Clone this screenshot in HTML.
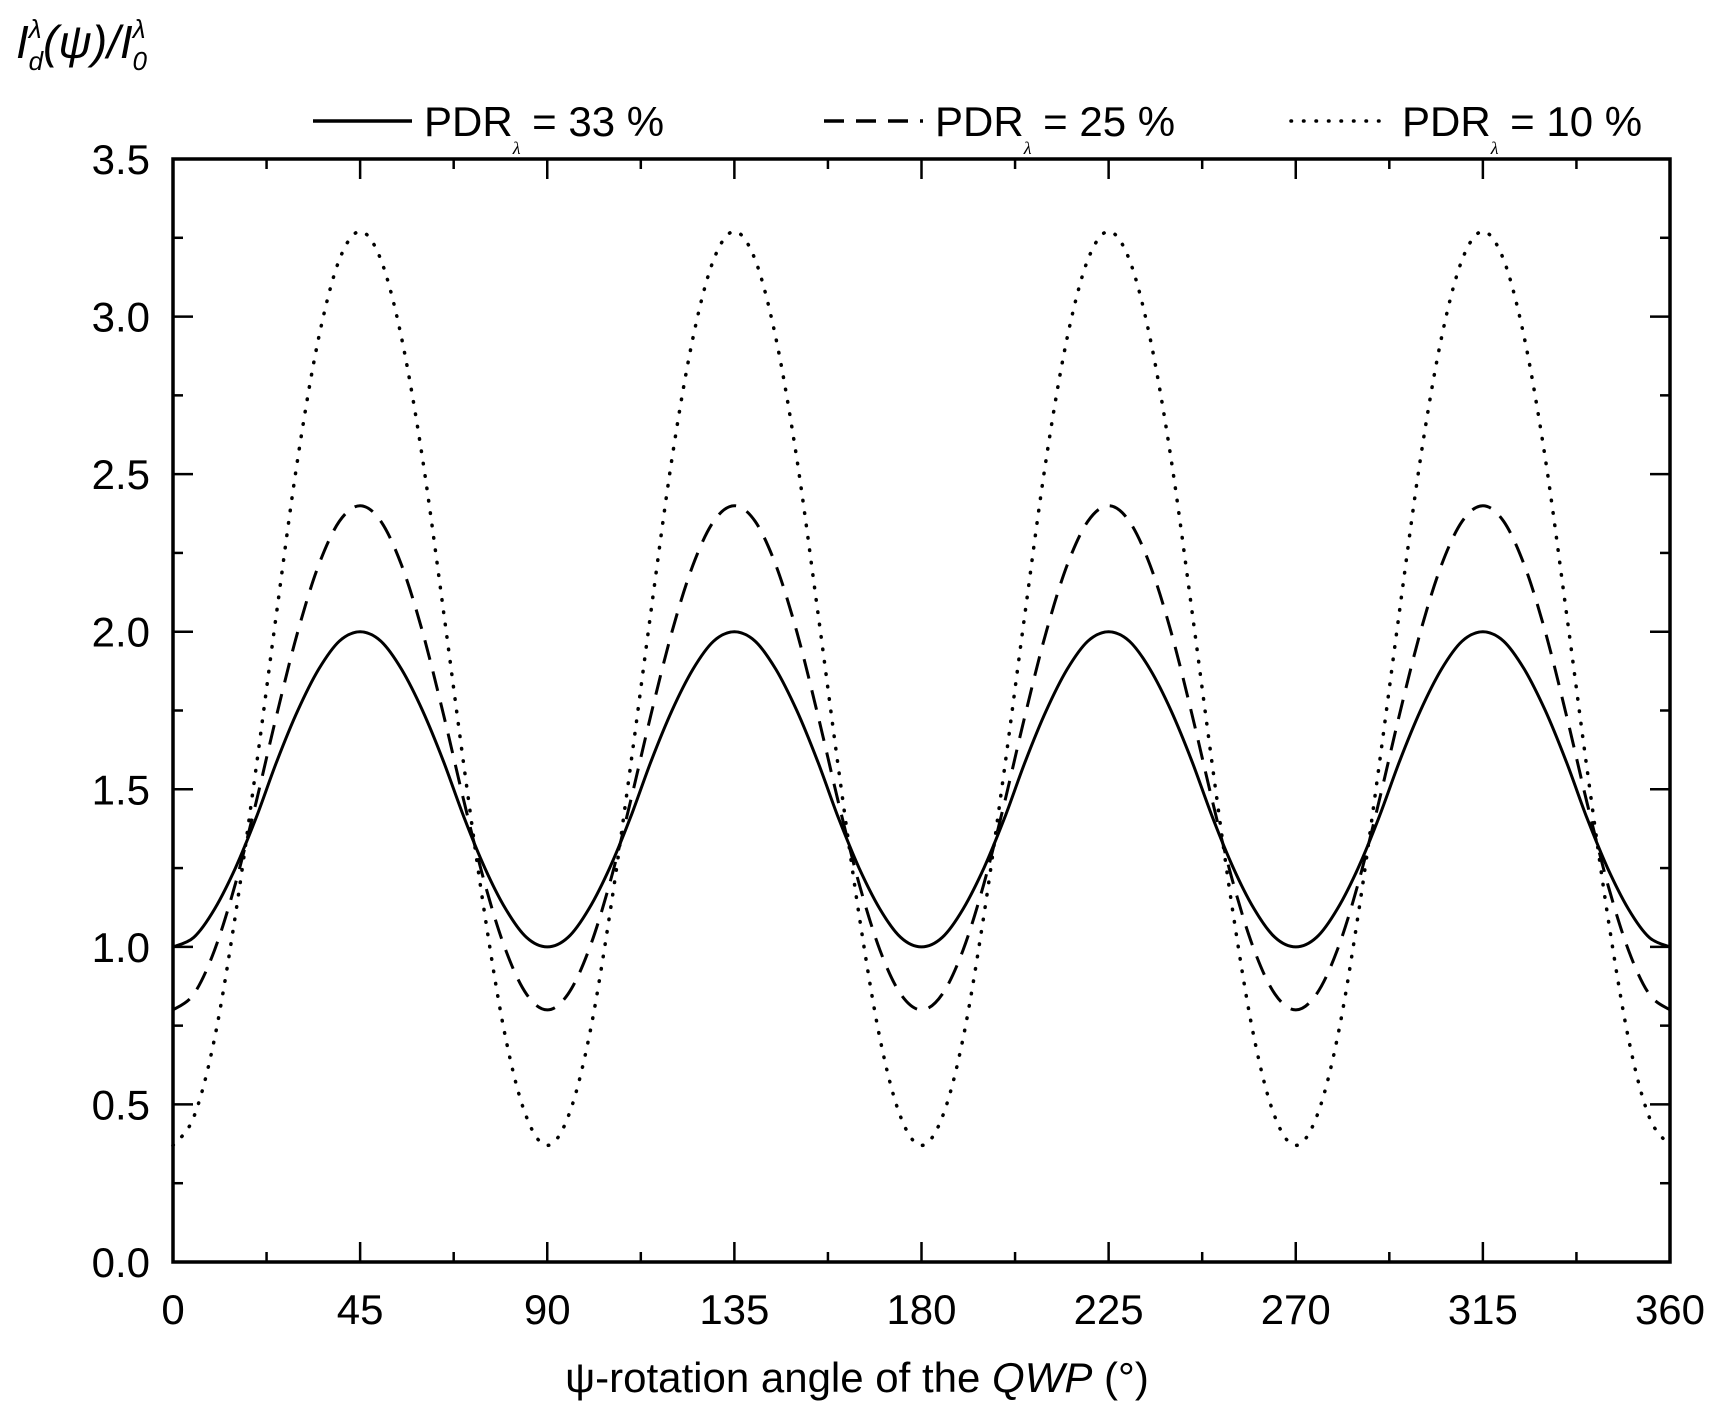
<!DOCTYPE html>
<html><head><meta charset="utf-8"><style>
body{margin:0;background:#fff}
svg text{font-family:"Liberation Sans",sans-serif;fill:#000}
</style></head><body>
<svg id="c" width="1723" height="1422" xmlns="http://www.w3.org/2000/svg"></svg>
<script>
const angles=[0,5,10,15,20,25,30,35,40,45,50,55,60,65,70,75,80,85,90,95,100,105,110,115,120,125,130,135,140,145,150,155,160,165,170,175,180,185,190,195,200,205,210,215,220,225,230,235,240,245,250,255,260,265,270,275,280,285,290,295,300,305,310,315,320,325,330,335,340,345,350,355,360];
const pdr33=[1.00,1.03,1.12,1.25,1.41,1.59,1.75,1.88,1.97,2.00,1.97,1.88,1.75,1.59,1.41,1.25,1.12,1.03,1.00,1.03,1.12,1.25,1.41,1.59,1.75,1.88,1.97,2.00,1.97,1.88,1.75,1.59,1.41,1.25,1.12,1.03,1.00,1.03,1.12,1.25,1.41,1.59,1.75,1.88,1.97,2.00,1.97,1.88,1.75,1.59,1.41,1.25,1.12,1.03,1.00,1.03,1.12,1.25,1.41,1.59,1.75,1.88,1.97,2.00,1.97,1.88,1.75,1.59,1.41,1.25,1.12,1.03,1.00];
const pdr25=[0.80,0.85,0.99,1.20,1.46,1.74,2.00,2.21,2.35,2.40,2.35,2.21,2.00,1.74,1.46,1.20,0.99,0.85,0.80,0.85,0.99,1.20,1.46,1.74,2.00,2.21,2.35,2.40,2.35,2.21,2.00,1.74,1.46,1.20,0.99,0.85,0.80,0.85,0.99,1.20,1.46,1.74,2.00,2.21,2.35,2.40,2.35,2.21,2.00,1.74,1.46,1.20,0.99,0.85,0.80,0.85,0.99,1.20,1.46,1.74,2.00,2.21,2.35,2.40,2.35,2.21,2.00,1.74,1.46,1.20,0.99,0.85,0.80];
const pdr10=[0.37,0.46,0.71,1.10,1.57,2.07,2.55,2.93,3.18,3.27,3.18,2.93,2.55,2.07,1.57,1.10,0.71,0.46,0.37,0.46,0.71,1.10,1.57,2.07,2.55,2.93,3.18,3.27,3.18,2.93,2.55,2.07,1.57,1.10,0.71,0.46,0.37,0.46,0.71,1.10,1.57,2.07,2.55,2.93,3.18,3.27,3.18,2.93,2.55,2.07,1.57,1.10,0.71,0.46,0.37,0.46,0.71,1.10,1.57,2.07,2.55,2.93,3.18,3.27,3.18,2.93,2.55,2.07,1.57,1.10,0.71,0.46,0.37];
const xTicks=[0,45,90,135,180,225,270,315,360];
const yTicks=[0.0,0.5,1.0,1.5,2.0,2.5,3.0,3.5];
const L=173,R=1670,T=159,B=1262;
const X=v=>L+(v/360)*(R-L);
const Y=v=>B-(v/3.5)*(B-T);
const svg=document.getElementById('c');
const NS='http://www.w3.org/2000/svg';
function mk(tag,attrs,parent){const e=document.createElementNS(NS,tag);for(const k in attrs)e.setAttribute(k,attrs[k]);(parent||svg).appendChild(e);return e;}
for(let i=0;i<=16;i++){const v=i*22.5;const len=i%2?10:20;
 const t1=mk('line',{x1:X(v),x2:X(v),y1:B,y2:B-len,stroke:'#000','stroke-width':2.5});
 
 
 const t2=mk('line',{x1:X(v),x2:X(v),y1:T,y2:T+len,stroke:'#000','stroke-width':2.5});
 
 }
for(let i=0;i<=14;i++){const v=i*0.25;const len=i%2?10:20;
 const t1=mk('line',{x1:L,x2:L+len,y1:Y(v),y2:Y(v),stroke:'#000','stroke-width':2.5});
 
 
 const t2=mk('line',{x1:R,x2:R-len,y1:Y(v),y2:Y(v),stroke:'#000','stroke-width':2.5});
 
 }
xTicks.forEach(v=>{const t=mk('text',{x:X(v),y:1324,'text-anchor':'middle','font-size':42});t.textContent=String(v);
 
 });
yTicks.forEach(v=>{const t=mk('text',{x:150,y:Y(v)+15,'text-anchor':'end','font-size':42});t.textContent=v.toFixed(1);
 
 });
function line(arr,dash,name,round){
 const P=angles.map((a,i)=>[X(a),Y(arr[i])]);
 let d='M'+P[0][0].toFixed(1)+','+P[0][1].toFixed(1);
 for(let i=0;i<P.length-1;i++){const p0=P[Math.max(0,i-1)],p1=P[i],p2=P[i+1],p3=P[Math.min(P.length-1,i+2)];
  const c1=[p1[0]+(p2[0]-p0[0])/6,p1[1]+(p2[1]-p0[1])/6],c2=[p2[0]-(p3[0]-p1[0])/6,p2[1]-(p3[1]-p1[1])/6];
  d+='C'+c1[0].toFixed(1)+','+c1[1].toFixed(1)+' '+c2[0].toFixed(1)+','+c2[1].toFixed(1)+' '+p2[0].toFixed(1)+','+p2[1].toFixed(1);}
 const p=mk('path',{d:d,fill:'none',stroke:'#000','stroke-width':round?3.5:3,'stroke-dasharray':dash,'stroke-linecap':round?'round':'butt'});
 
 }
line(pdr33,'none','series-pdr-33',false);
line(pdr25,'20 12','series-pdr-25',false);
line(pdr10,'0.5 12','series-pdr-10',true);
const fr=mk('rect',{x:L,y:T,width:R-L,height:B-T,fill:'none',stroke:'#000','stroke-width':3.5});


const leg=[[313,'none','33','legend-pdr-33',false],[824,'20 12','25','legend-pdr-25',false],[1291,'0.5 12','10','legend-pdr-10',true]];
leg.forEach(([x,dash,v,name,round])=>{const g=mk('g',{});
 
 
 mk('line',{x1:x,x2:x+99,y1:121,y2:121,stroke:'#000','stroke-width':3.5,'stroke-dasharray':dash,'stroke-linecap':round?'round':'butt'},g);
 const t=mk('text',{x:x+111,y:136,'font-size':42},g);
 t.innerHTML='PDR<tspan font-size="18" dy="18" font-family="Liberation Serif" font-style="italic">λ</tspan><tspan dy="-18"> = '+v+' %</tspan>';});
</script>
<svg style="position:absolute;left:0;top:0" width="1723" height="1422" xmlns="http://www.w3.org/2000/svg">
<text x="16" y="58" font-family="Liberation Serif" font-style="italic" font-size="46">I<tspan font-size="26" dy="-20">λ</tspan><tspan font-size="26" dx="-13" dy="32">d</tspan><tspan dy="-12">(ψ)/I</tspan><tspan font-size="26" dy="-20">λ</tspan><tspan font-size="26" dx="-13" dy="32">0</tspan></text>
<text x="857" y="1392" text-anchor="middle" font-family="Liberation Sans" font-size="42">ψ-rotation angle of the <tspan font-style="italic">QWP</tspan> (°)</text>
</svg>
</body></html>
